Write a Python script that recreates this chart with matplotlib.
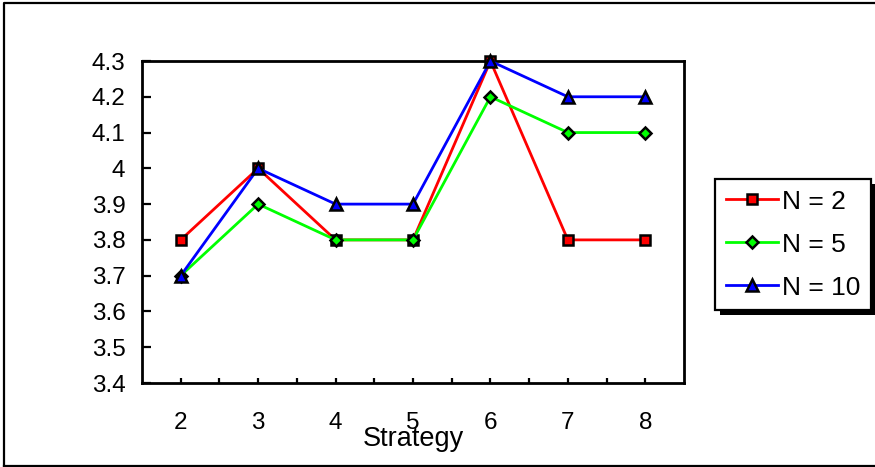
import matplotlib
matplotlib.use("Agg")
import matplotlib.pyplot as plt
from matplotlib.patches import Rectangle
from matplotlib.lines import Line2D

plt.rcParams['font.family'] = ['Liberation Sans', 'DejaVu Sans']

strategies = [2, 3, 4, 5, 6, 7, 8]
n2 = [3.8, 4.0, 3.8, 3.8, 4.3, 3.8, 3.8]
n5 = [3.7, 3.9, 3.8, 3.8, 4.2, 4.1, 4.1]
n10 = [3.7, 4.0, 3.9, 3.9, 4.3, 4.2, 4.2]
labels = ["N = 2", "N = 5", "N = 10"]
yticks = [3.4, 3.5, 3.6, 3.7, 3.8, 3.9, 4.0, 4.1, 4.2, 4.3]
ytick_labels = ["3.4", "3.5", "3.6", "3.7", "3.8", "3.9", "4", "4.1", "4.2", "4.3"]

W, H = 875, 467
fig = plt.figure(figsize=(W / 100, H / 100), dpi=100)

# outer chart frame
fig.add_artist(Line2D([4 / W, 4 / W, 1.01], [1 - 466 / H, 1 - 3 / H, 1 - 3 / H],
                      transform=fig.transFigure, color='black', lw=1.6))
fig.add_artist(Line2D([4 / W, 1.01], [1 - 466 / H, 1 - 466 / H],
                      transform=fig.transFigure, color='black', lw=1.6))

left, right, top, bottom = 142, 684, 61, 383
ax = fig.add_axes([left / W, 1 - bottom / H, (right - left) / W, (bottom - top) / H])

series = [
    (n2, 'red', 's', 7.5),
    (n5, '#00ff00', 'D', 6.0),
    (n10, 'blue', '^', 9.0),
]
handles = []
for (vals, color, marker, ms), lab in zip(series, labels):
    h, = ax.plot(strategies, vals, color=color, lw=2.0, marker=marker, ms=ms,
                 mfc=color, mec='black', mew=1.8, clip_on=False, label=lab, zorder=3)
    handles.append(h)

ax.set_xlim(1.5, 8.5)
ax.set_ylim(3.4, 4.3)
ax.set_xticks(strategies)
ax.set_xticks([s + 0.5 for s in strategies[:-1]], minor=True)
ax.set_yticks(yticks)
ax.set_yticklabels(ytick_labels)
ax.tick_params(axis='y', direction='in', length=6.5, width=1.6, labelsize=17.5, pad=12)
ax.tick_params(axis='x', which='both', direction='in', length=3.6, width=1.6)
ax.tick_params(axis='x', which='major', labelsize=17.5, pad=21)
for sp in ax.spines.values():
    sp.set_linewidth(2.0)
ax.set_xlabel("Strategy", fontsize=19.5, labelpad=-6)

leg = fig.legend(handles=handles, loc='upper left',
                 bbox_to_anchor=(715 / W, 1 - 179 / H), bbox_transform=fig.transFigure,
                 borderaxespad=0, fontsize=19, frameon=True, fancybox=False,
                 edgecolor='black', facecolor='white', framealpha=1,
                 handlelength=2.0, handletextpad=0.15, labelspacing=0.72,
                 borderpad=0.4)
leg.get_frame().set_linewidth(1.6)
leg.set_zorder(10)

fig.canvas.draw()
bb = leg.get_window_extent()
fig.add_artist(Rectangle(((bb.x0 + 5) / W, (bb.y0 - 5) / H), bb.width / W, bb.height / H,
                         transform=fig.transFigure, facecolor='black', edgecolor='none',
                         zorder=9))

fig.savefig("out.png", dpi=100)
